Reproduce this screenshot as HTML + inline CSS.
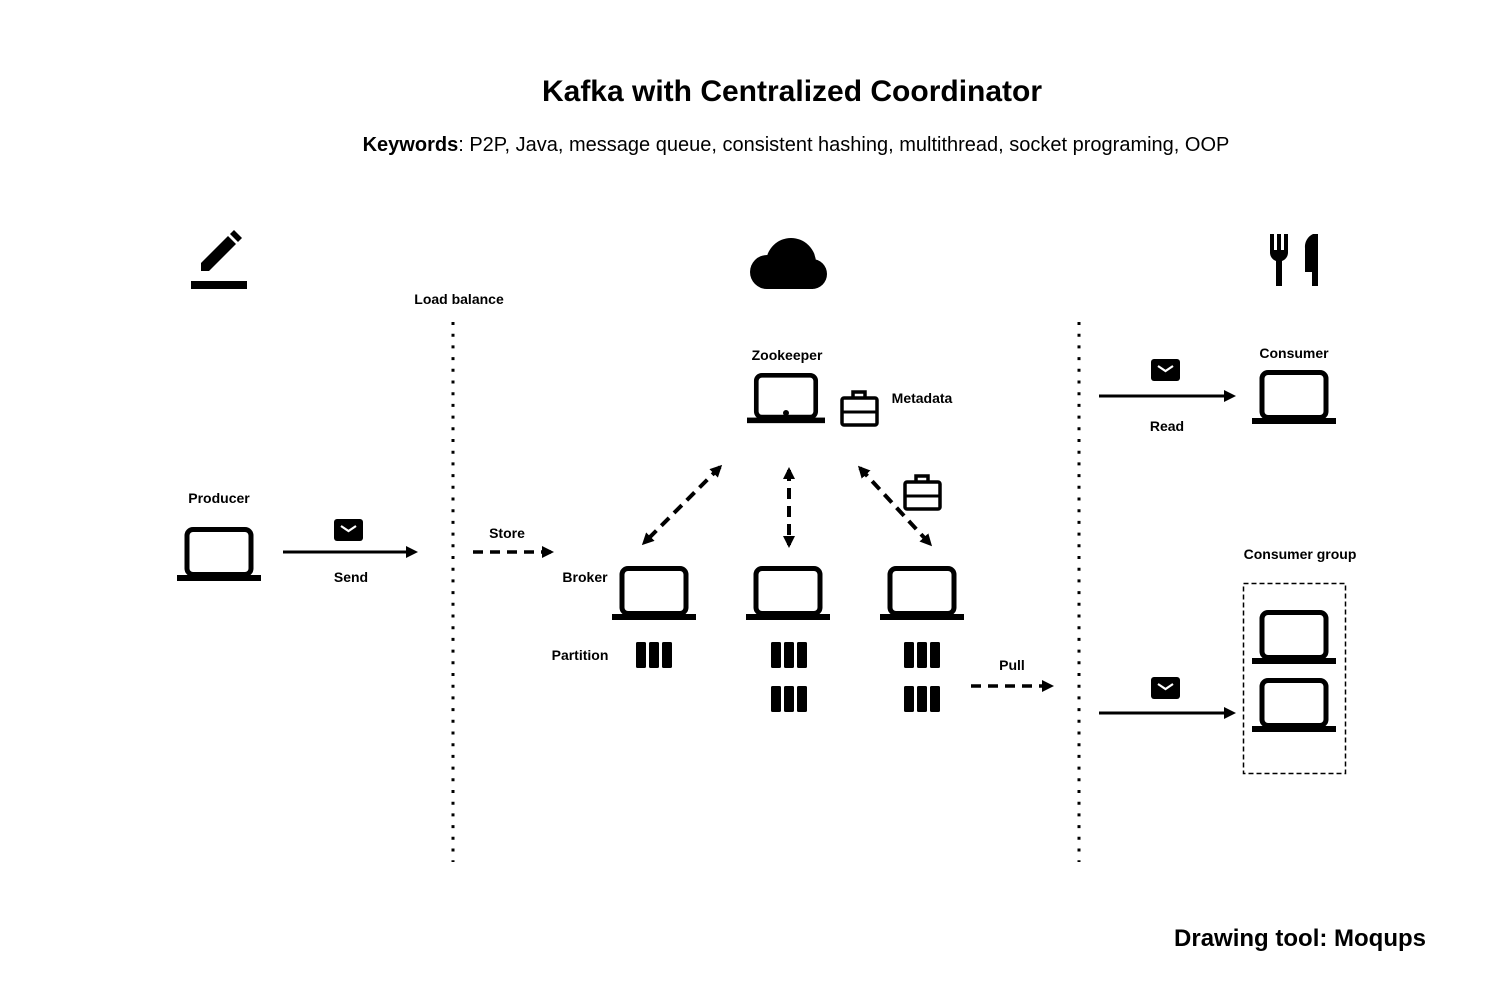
<!DOCTYPE html>
<html><head><meta charset="utf-8"><style>
html,body{margin:0;padding:0;background:#fff;}
svg{display:block;}
text{font-family:"Liberation Sans",Arial,sans-serif;fill:#000;}
.l{font-size:14px;font-weight:bold;text-anchor:middle;}
</style></head><body>
<svg width="1496" height="996" viewBox="0 0 1496 996" xmlns="http://www.w3.org/2000/svg">
<defs>
<symbol id="lap" viewBox="0 0 84 56" overflow="visible">
<rect x="10" y="2.5" width="64" height="45" rx="6" fill="none" stroke="#000" stroke-width="5"/>
<rect x="0" y="48" width="84" height="6" fill="#000"/>
</symbol>
<symbol id="env" overflow="visible">
<rect x="0" y="0" width="29" height="22" rx="3" fill="#000"/>
<path d="M7 7 L14.5 12 L22 7" fill="none" stroke="#fff" stroke-width="2.2"/>
</symbol>
<symbol id="brief" overflow="visible">
<path d="M13 9 V3 H25 V9" fill="none" stroke="#000" stroke-width="3.5"/>
<rect x="2" y="9" width="35" height="27" rx="2" fill="none" stroke="#000" stroke-width="3.5"/>
<line x1="2" y1="23" x2="37" y2="23" stroke="#000" stroke-width="3"/>
</symbol>
<symbol id="part" overflow="visible">
<rect x="0" y="0" width="10" height="26" rx="1.5" fill="#000"/>
<rect x="13" y="0" width="10" height="26" rx="1.5" fill="#000"/>
<rect x="26" y="0" width="10" height="26" rx="1.5" fill="#000"/>
</symbol>
<marker id="ah" markerWidth="12" markerHeight="12" refX="9" refY="6" orient="auto" markerUnits="userSpaceOnUse"><path d="M0 0 L12 6 L0 12 z" fill="#000"/></marker>
<marker id="as" markerWidth="12" markerHeight="12" refX="3" refY="6" orient="auto" markerUnits="userSpaceOnUse"><path d="M12 0 L0 6 L12 12 z" fill="#000"/></marker>
</defs>

<text x="792" y="101" font-size="30" font-weight="bold" text-anchor="middle">Kafka with Centralized Coordinator</text>
<text x="796" y="151" font-size="20" text-anchor="middle"><tspan font-weight="bold">Keywords</tspan>: P2P, Java, message queue, consistent hashing, multithread, socket programing, OOP</text>
<text x="1426" y="946" font-size="24" font-weight="bold" text-anchor="end">Drawing tool: Moqups</text>

<!-- pencil -->
<rect x="191" y="281" width="56" height="8" fill="#000"/>
<path d="M201 271 L201 263 L228 236 L236 244 L209 271 Z" fill="#000"/>
<path d="M230 234 L234 230 L242 238 L238 242 Z" fill="#000"/>
<!-- cloud -->
<g fill="#000"><circle cx="791" cy="263" r="25"/><circle cx="767" cy="272" r="17"/><circle cx="812" cy="274" r="15"/><rect x="767" y="268" width="46" height="21"/></g>
<!-- fork knife -->
<g fill="#000">
<path d="M1270 234 h4 v16 h3 v-16 h4 v16 h3 v-16 h4 v18 a9 9 0 0 1 -6 9 v25 h-6 v-25 a9 9 0 0 1 -6 -9 z"/>
<path d="M1313 234 h5 v52 h-6 v-14 h-7 v-24 a14 14 0 0 1 8 -14 z"/>
</g>

<text x="459" y="304" class="l">Load balance</text>
<line x1="453" y1="322" x2="453" y2="862" stroke="#000" stroke-width="3" stroke-dasharray="3 8.7"/>
<line x1="1079" y1="322" x2="1079" y2="862" stroke="#000" stroke-width="3" stroke-dasharray="3 8.7"/>

<!-- producer -->
<text x="219" y="503" class="l">Producer</text>
<use href="#lap" x="177" y="527" width="84" height="56"/>
<use href="#env" x="334" y="519"/>
<line x1="283" y1="552" x2="415" y2="552" stroke="#000" stroke-width="3" marker-end="url(#ah)"/>
<text x="351" y="582" class="l">Send</text>

<text x="507" y="538" class="l">Store</text>
<line x1="473" y1="552" x2="551" y2="552" stroke="#000" stroke-width="3.5" stroke-dasharray="10 7" marker-end="url(#ah)"/>

<!-- zookeeper -->
<text x="787" y="360" class="l">Zookeeper</text>
<use href="#lap" x="747" y="371" width="78" height="56"/>
<circle cx="786" cy="413" r="3" fill="#000"/>
<use href="#brief" x="840" y="389"/>
<text x="922" y="403" class="l">Metadata</text>
<use href="#brief" x="903" y="473"/>

<line x1="720" y1="467" x2="644" y2="543" stroke="#000" stroke-width="4" stroke-dasharray="11 7" marker-end="url(#ah)" marker-start="url(#as)"/>
<line x1="789" y1="470" x2="789" y2="545" stroke="#000" stroke-width="4" stroke-dasharray="11 7" marker-end="url(#ah)" marker-start="url(#as)"/>
<line x1="860" y1="468" x2="930" y2="544" stroke="#000" stroke-width="4" stroke-dasharray="11 7" marker-end="url(#ah)" marker-start="url(#as)"/>

<!-- brokers -->
<text x="585" y="582" class="l">Broker</text>
<use href="#lap" x="612" y="566" width="84" height="56"/>
<use href="#lap" x="746" y="566" width="84" height="56"/>
<use href="#lap" x="880" y="566" width="84" height="56"/>
<text x="580" y="660" class="l">Partition</text>
<use href="#part" x="636" y="642"/>
<use href="#part" x="771" y="642"/>
<use href="#part" x="771" y="686"/>
<use href="#part" x="904" y="642"/>
<use href="#part" x="904" y="686"/>

<text x="1012" y="670" class="l">Pull</text>
<line x1="971" y1="686" x2="1051" y2="686" stroke="#000" stroke-width="3.5" stroke-dasharray="10 7" marker-end="url(#ah)"/>

<!-- consumer -->
<text x="1294" y="358" class="l">Consumer</text>
<use href="#lap" x="1252" y="370" width="84" height="56"/>
<use href="#env" x="1151" y="359"/>
<line x1="1099" y1="396" x2="1233" y2="396" stroke="#000" stroke-width="3" marker-end="url(#ah)"/>
<text x="1167" y="431" class="l">Read</text>

<text x="1300" y="559" class="l">Consumer group</text>
<rect x="1243.5" y="583.5" width="102" height="190" fill="none" stroke="#000" stroke-width="1.5" stroke-dasharray="5 3"/>
<use href="#lap" x="1252" y="610" width="84" height="56"/>
<use href="#lap" x="1252" y="678" width="84" height="56"/>
<use href="#env" x="1151" y="677"/>
<line x1="1099" y1="713" x2="1233" y2="713" stroke="#000" stroke-width="3" marker-end="url(#ah)"/>
</svg>
</body></html>
